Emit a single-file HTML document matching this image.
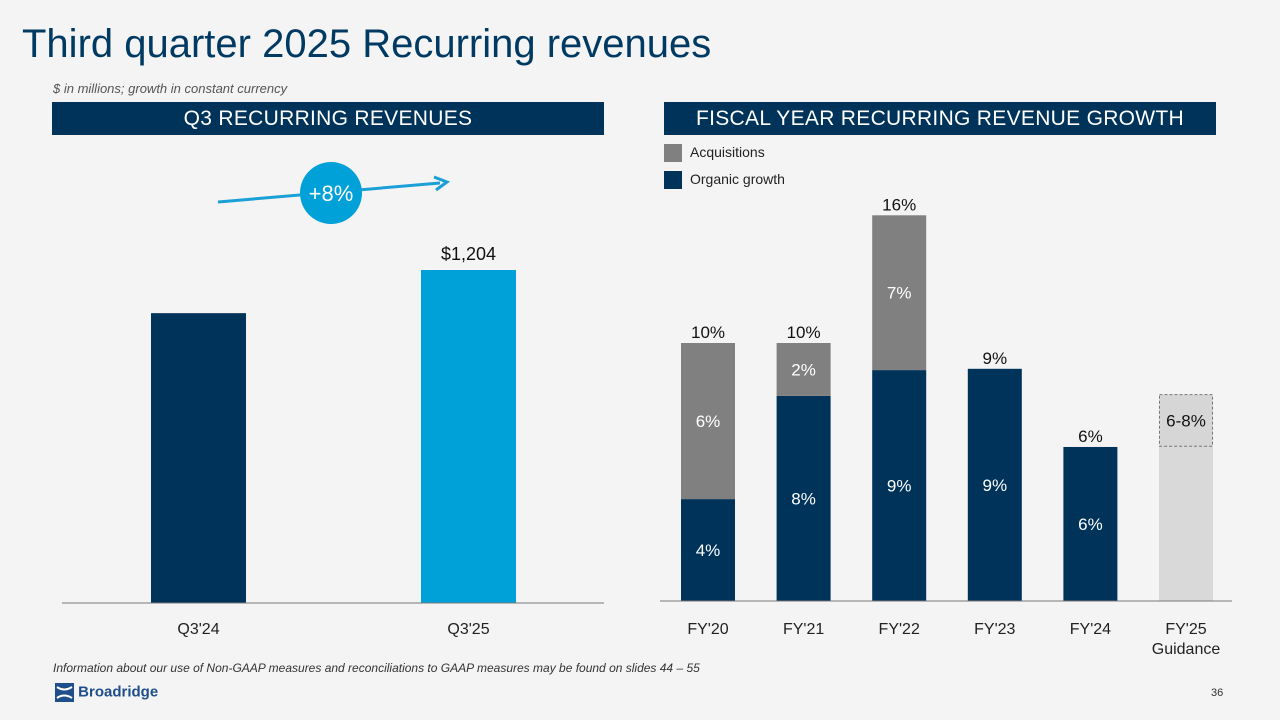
<!DOCTYPE html>
<html><head><meta charset="utf-8">
<style>
body{margin:0;width:1280px;height:720px;background:#f4f4f4;font-family:"Liberation Sans",sans-serif;position:relative;overflow:hidden}
.abs{position:absolute}
.hdr{position:absolute;top:102px;height:33px;background:#003359;color:#fff;font-size:21px;text-align:center;line-height:34px;letter-spacing:0.3px}
</style></head><body>
<div class="abs" style="left:22px;top:22px;font-size:40px;color:#003a63">Third quarter 2025 Recurring revenues</div>
<div class="abs" style="left:53px;top:81px;font-size:13px;font-style:italic;color:#555">$ in millions; growth in constant currency</div>
<div class="hdr" style="left:52px;width:552px">Q3 RECURRING REVENUES</div>
<div class="hdr" style="left:664px;width:552px">FISCAL YEAR RECURRING REVENUE GROWTH</div>
<div class="abs" style="left:664px;top:144px;font-size:14px;color:#222"><span style="display:inline-block;width:18px;height:18px;background:#808080;vertical-align:middle;margin-right:8px"></span>Acquisitions</div>
<div class="abs" style="left:664px;top:171px;font-size:14px;color:#222"><span style="display:inline-block;width:18px;height:18px;background:#003359;vertical-align:middle;margin-right:8px"></span>Organic growth</div>
<svg id="chart" class="abs" style="left:0;top:0" width="1280" height="720"></svg>
<div class="abs" style="left:53px;top:661px;font-size:12px;font-style:italic;color:#333">Information about our use of Non-GAAP measures and reconciliations to GAAP measures may be found on slides 44 – 55</div>
<div class="abs" style="left:55px;top:683px;font-size:15px;font-weight:bold;color:#1f4e8c">
<svg width="19" height="19" style="vertical-align:middle"><rect width="19" height="19" fill="#1f4e8c"/><path d="M2 4 Q9 9 17 4 M2 15 Q9 10 17 15" stroke="#fff" stroke-width="2" fill="none"/></svg> Broadridge</div>
<div class="abs" style="left:1211px;top:687px;font-size:11px;color:#333">36</div>
<script>
const qCats=["Q3'24","Q3'25"];
const qVals=[1048,1204];
const qLabels=["","$1,204"];
const fyCats=["FY'20","FY'21","FY'22","FY'23","FY'24","FY'25"];
const organic=[3.95,7.95,8.95,9.0,5.97,0];
const acquisitions=[6.05,2.05,6.0,0,0,0];
const guidanceLow=[0,0,0,0,0,6];
const guidanceHigh=[0,0,0,0,0,8];
const orgLabels=["4%","8%","9%","9%","6%",""];
const acqLabels=["6%","2%","7%","","",""];
const totalLabels=["10%","10%","16%","9%","6%",""];
const NS="http://www.w3.org/2000/svg";
const svg=document.getElementById('chart');
function mk(t,a,txt){const e=document.createElementNS(NS,t);for(const k in a)e.setAttribute(k,a[k]);if(txt!==undefined)e.textContent=txt;svg.appendChild(e);return e;}
const lBase=603, lScale=333/1204;
const lY=v=>lBase-v*lScale;
const lX=i=>151+i*270;
const lColors=["#003359","#00a0d8"];
qVals.forEach((v,i)=>{
 let r=mk('rect',{x:lX(i),y:lY(v),width:95,height:lBase-lY(v),fill:lColors[i]});
 
 
 if(qLabels[i]){let t=mk('text',{x:lX(i)+47.5,y:lY(v)-10,'text-anchor':'middle','font-size':18,fill:'#111'},qLabels[i]);
 }
 let c=mk('text',{x:lX(i)+47.5,y:634,'text-anchor':'middle','font-size':16,fill:'#222'},qCats[i]);
 
});
let la=mk('line',{x1:62,y1:lBase,x2:604,y2:lBase,stroke:'#777','stroke-width':1});

let ar=mk('line',{x1:218,y1:202,x2:440,y2:183,stroke:'#1a9fd6','stroke-width':3});

let ah=mk('path',{d:'M434 177 L447 182 L436 190',stroke:'#1a9fd6','stroke-width':3,fill:'none'});

let gc=mk('circle',{cx:331,cy:193,r:31,fill:'#00a0d8'});

let gt=mk('text',{x:331,y:201,'text-anchor':'middle','font-size':22,fill:'#fff'},'+8%');

const rBase=601, rScale=25.8;
const rY=v=>rBase-v*rScale;
const rX=i=>681+i*95.6;
const W=54;
fyCats.forEach((c,i)=>{
 const x=rX(i);
 if(organic[i]>0){let r=mk('rect',{x:x,y:rY(organic[i]),width:W,height:organic[i]*rScale,fill:'#003359'});
  
  let t=mk('text',{x:x+W/2,y:rY(organic[i]/2)+6,'text-anchor':'middle','font-size':17,fill:'#fff'},orgLabels[i]);
  }
 if(acquisitions[i]>0){const top=organic[i]+acquisitions[i];
  let r=mk('rect',{x:x,y:rY(top),width:W,height:acquisitions[i]*rScale,fill:'#808080'});
  
  let t=mk('text',{x:x+W/2,y:rY(organic[i]+acquisitions[i]/2)+6,'text-anchor':'middle','font-size':17,fill:'#fff'},acqLabels[i]);
  }
 if(guidanceHigh[i]>0){
  let r=mk('rect',{x:x,y:rY(guidanceLow[i]),width:W,height:guidanceLow[i]*rScale,fill:'#d9d9d9'});
  
  let b=mk('rect',{x:x+0.5,y:rY(guidanceHigh[i]),width:W-1,height:(guidanceHigh[i]-guidanceLow[i])*rScale,fill:'#d6d6d6',stroke:'#777','stroke-dasharray':'3,2','stroke-width':1});
  
  let t=mk('text',{x:x+W/2,y:rY((guidanceHigh[i]+guidanceLow[i])/2)+6,'text-anchor':'middle','font-size':17,fill:'#111'},guidanceLow[i]+'-'+guidanceHigh[i]+'%');
  }
 if(totalLabels[i]){let t=mk('text',{x:x+W/2,y:rY(organic[i]+acquisitions[i])-5,'text-anchor':'middle','font-size':17,fill:'#111'},totalLabels[i]);
  }
 let xl=mk('text',{x:x+W/2,y:634,'text-anchor':'middle','font-size':16,fill:'#222'},c);
 
 if(guidanceHigh[i]>0){let g=mk('text',{x:x+W/2,y:654,'text-anchor':'middle','font-size':16,fill:'#222'},'Guidance');
  }
});
let rb=mk('line',{x1:660,y1:rBase,x2:1232,y2:rBase,stroke:'#777','stroke-width':1});

</script>
</body></html>
